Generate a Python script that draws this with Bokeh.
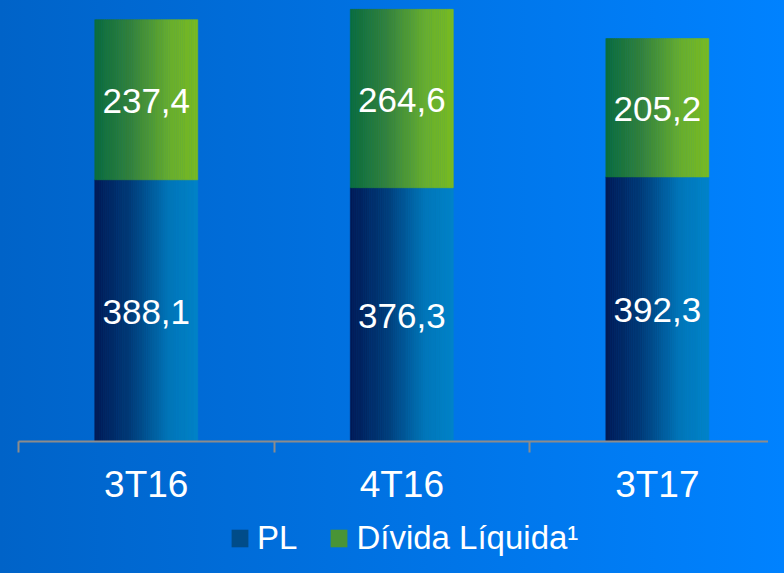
import numpy as np
from bokeh.plotting import figure
from bokeh.layouts import column
from bokeh.models import (Range1d, FixedTicker, LinearAxis, Legend, LegendItem,
                          ColumnDataSource, GlobalInlineStyleSheet)
from bokeh.core.properties import value
from bokeh.embed import file_html
from bokeh.resources import INLINE

# ---- data ----
categories = ["3T16", "4T16", "3T17"]
pl = [388.1, 376.3, 392.3]
divida = [237.4, 264.6, 205.2]
series_names = ["PL", "Dívida Líquida¹"]

# ---- styles ----
FONT = "Liberation Sans"
PL_STOPS = [(0.0, (2, 26, 86)), (0.35, (0, 60, 120)), (0.72, (0, 118, 184)), (1.0, (0, 132, 200))]
GR_STOPS = [(0.0, (10, 108, 62)), (0.35, (52, 130, 60)), (0.72, (104, 174, 46)), (1.0, (122, 188, 34))]
BAR_W = 0.403
N_SLICES = 48


def grad(stops, t):
    for (t0, c0), (t1, c1) in zip(stops[:-1], stops[1:]):
        if t <= t1:
            f = (t - t0) / (t1 - t0)
            return "#%02x%02x%02x" % tuple(int(round(a + (b - a) * f)) for a, b in zip(c0, c1))
    return "#%02x%02x%02x" % stops[-1][1]


x_center = np.arange(len(categories)) + 0.5
pl_arr = np.array(pl)
dv_arr = np.array(divida)


def slices(bottoms, tops, stops):
    L, R, B, T, C = [], [], [], [], []
    for xc, b, t in zip(x_center, bottoms, tops):
        for k in range(N_SLICES):
            l = xc - BAR_W / 2 + k * BAR_W / N_SLICES
            L.append(l)
            R.append(l + BAR_W / N_SLICES)
            B.append(b)
            T.append(t)
            C.append(grad(stops, (k + 0.5) / N_SLICES))
    return ColumnDataSource(dict(left=L, right=R, bottom=B, top=T, color=C))


common = dict(output_backend="svg", toolbar_location=None,
              x_axis_location=None, y_axis_location=None,
              background_fill_color=None, border_fill_color=None, outline_line_color=None)

p = figure(width=768, height=507,
           x_range=Range1d(0, 2.935), y_range=Range1d(0, 654),
           min_border_left=18, min_border_right=0, min_border_top=0, min_border_bottom=66,
           **common)
p.xgrid.visible = False
p.ygrid.visible = False

p.stylesheets = [GlobalInlineStyleSheet(
    css="body { background: linear-gradient(to right, #0063c8, #0082ff); }")]

pl_src = slices(np.zeros(len(pl_arr)), pl_arr, PL_STOPS)
dv_src = slices(pl_arr, pl_arr + dv_arr, GR_STOPS)
p.quad(left="left", right="right", bottom="bottom", top="top", source=pl_src,
       fill_color="color", line_color="color", line_width=0.6)
p.quad(left="left", right="right", bottom="bottom", top="top", source=dv_src,
       fill_color="color", line_color="color", line_width=0.6)

fmt = lambda v: f"{v:.1f}".replace(".", ",")
lab_src = ColumnDataSource(dict(
    x=list(x_center) + list(x_center),
    y=list(pl_arr / 2) + list(pl_arr + dv_arr / 2),
    text=[fmt(v) for v in pl] + [fmt(v) for v in divida]))
p.text(x="x", y="y", text="text", source=lab_src, text_font=value(FONT),
       text_font_size="35px", text_color="white", text_align="center",
       text_baseline="middle", y_offset=1)

xaxis = LinearAxis(
    ticker=FixedTicker(ticks=list(map(float, x_center)),
                       minor_ticks=list(map(float, range(len(categories) + 1)))),
    major_label_overrides={float(x): c for x, c in zip(x_center, categories)},
    axis_line_color="#8c8c8c", axis_line_width=2,
    major_tick_line_color=None, major_tick_out=0, major_tick_in=0,
    minor_tick_line_color="#8c8c8c", minor_tick_line_width=2,
    minor_tick_out=11, minor_tick_in=0,
    major_label_standoff=11,
    major_label_text_color="white", major_label_text_font=FONT,
    major_label_text_font_size="37px")
p.add_layout(xaxis, "below")

# ---- legend strip ----
p2 = figure(width=768, height=50, x_range=Range1d(0, 1), y_range=Range1d(0, 1),
            min_border_left=0, min_border_right=0, min_border_top=0, min_border_bottom=0,
            **common)
p2.xgrid.visible = False
p2.ygrid.visible = False
# off-range proxies: only their legend swatches are visible
r_pl = p2.vbar(x=[-5], bottom=[0], top=[0], width=0.1,
               fill_color=grad(PL_STOPS, 0.45), line_color=None)
r_dv = p2.vbar(x=[-5], bottom=[0], top=[0], width=0.1,
               fill_color=grad(GR_STOPS, 0.5), line_color=None)
legend = Legend(items=[LegendItem(label=series_names[0], renderers=[r_pl]),
                       LegendItem(label=series_names[1], renderers=[r_dv])],
                orientation="horizontal", location=(211, 0),
                glyph_width=21, glyph_height=22, label_standoff=7, spacing=31,
                padding=0, margin=0, background_fill_alpha=0, border_line_color=None,
                label_text_color="white", label_text_font=FONT,
                label_text_font_size="33px")
p2.add_layout(legend)

layout = column(p, p2, spacing=0)
open("out.html", "w").write(file_html(layout, INLINE))
